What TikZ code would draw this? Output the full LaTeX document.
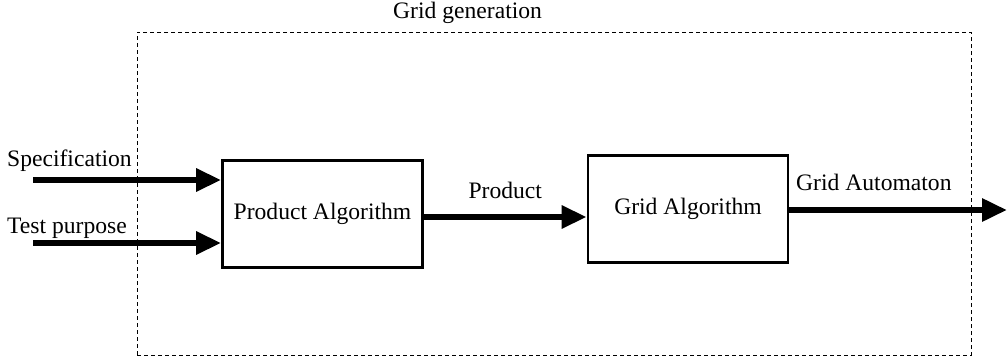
\documentclass[tikz,border=0pt]{standalone}
\usepackage{fontspec}
\setmainfont{Liberation Serif}
\usepackage{tikz}
\usetikzlibrary{shapes,arrows.meta}
\tikzstyle{algo}=[draw, line width=2.8pt, minimum width=200pt,
    minimum height=107pt, inner sep=0pt]
\tikzstyle{flow}=[line width=6pt, -{Triangle[length=25pt,width=22pt]}]
\tikzstyle{label}=[anchor=base west, inner sep=0pt]
\tikzstyle{frame}=[draw, dashed, thin, dash pattern=on 4pt off 3pt]

\begin{document}
\begin{tikzpicture}[x=1pt,y=-1pt,font=\fontsize{23.6}{28}\selectfont]
\useasboundingbox (0,0) rectangle (1007,364);
% Grid generation frame
\path (137,32) node [frame, minimum width=834pt, minimum height=323pt,
    anchor=north west] (G) {};
\path (393,18) node [label] (Gl) {Grid generation};
% Product algorithm
\path (322.5,214) node [algo] (PA) {Product Algorithm};
% Grid algorithm
\path (688,209) node [algo] (GA) {Grid Algorithm};
% inputs
\coordinate (spec) at (33,180);
\coordinate (test) at (33,243);
\path (7,166) node [label] (Sl) {Specification};
\path (7,233) node [label] (Tl) {Test purpose};
% output
\coordinate (out) at (1007,210);
\path (796,190) node [label] (Ol) {Grid Automaton};
% arrows
\draw [flow] (spec) -- (spec -| PA.west);
\draw [flow] (test) -- (test -| PA.west);
\coordinate (prod) at (0,217);
\draw [flow] (prod -| PA.east) -- node [above=15pt, inner sep=0pt] {Product} (prod -| GA.west);
\draw [flow] (out -| GA.east) -- (out);
\end{tikzpicture}
\end{document}
